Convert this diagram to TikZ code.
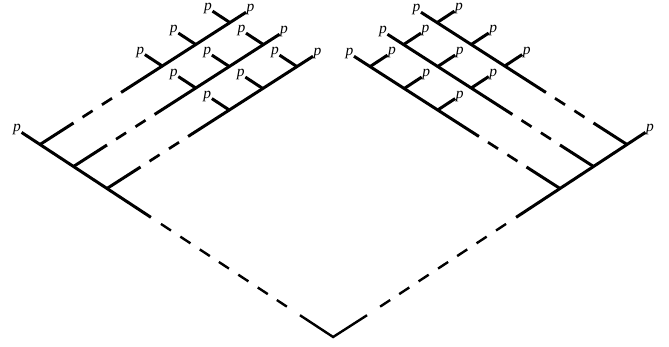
\documentclass[tikz,border=0pt]{standalone}
\usepackage{fontspec}
\setmainfont{Liberation Serif}
\usetikzlibrary{calc}
\newcommand\pfont{\fontsize{15.5}{16}\selectfont\itshape}
\begin{document}
\begin{tikzpicture}[x=1pt,y=-1pt,
  thickline/.style={line width=3pt},
  dashline/.style={line width=2.7pt},
  thinline/.style={line width=2.4pt},
  lab/.style={font=\pfont, inner sep=0.5pt, yshift=2.5pt}]
\useasboundingbox (0,0) rectangle (669,347);
\foreach \s/\n/\outA/\inA in {1/L/east/west, -1/R/west/east}{
  \pgfmathsetmacro{\cx}{333.5-\s*293.5}
  \coordinate (\n a) at (33.5*\s,22);
  \coordinate (\n b) at (33.5*\s,-21.5);
  \coordinate (\n J1) at (\cx,144.5);
  \coordinate (\n V) at ($(\n J1)+8.75*(\n a)$);
  \coordinate (\n S0) at ($(\n J1)-0.55*(\n a)$);
  \coordinate (\n M1) at ($(\n J1)+3.31*(\n a)$);
  \coordinate (\n M2) at ($(\n J1)+7.76*(\n a)$);
  % main line
  \draw[thickline] (\n S0) -- (\n M1);
  \node[lab, anchor=\outA] (\n P0) at (\n S0) {p};
  \foreach \u in {3.61,4.19,4.77,5.34,5.92,6.50,7.07}{
    \pgfmathsetmacro{\uu}{\u+0.3}
    \draw[thinline] ($(\n J1)+\u*(\n a)$) -- ($(\n J1)+\uu*(\n a)$);
  }
  % branches
  \foreach \k in {1,2,3}{
    \pgfmathsetmacro{\kk}{\k-1}
    \coordinate (\n J\k) at ($(\n J1)+\kk*(\n a)$);
    \draw[thickline] (\n J\k) -- ($(\n J\k)+1.0*(\n b)$);
    \draw[dashline] ($(\n J\k)+1.27*(\n b)$) -- ($(\n J\k)+1.57*(\n b)$);
    \draw[dashline] ($(\n J\k)+1.85*(\n b)$) -- ($(\n J\k)+2.15*(\n b)$);
    \coordinate (\n E\k) at ($(\n J\k)+6.15*(\n b)$);
    \draw[thickline] ($(\n J\k)+2.42*(\n b)$) -- (\n E\k);
    \node[lab, anchor=\inA] (\n PE\k) at (\n E\k) {p};
    \foreach \t/\i in {3.65/1,4.65/2,5.67/3}{
      \coordinate (\n B\k\i) at ($(\n J\k)+\t*(\n b)$);
      \coordinate (\n T\k\i) at ($(\n B\k\i)-0.52*(\n a)$);
      \draw[thickline] (\n B\k\i) -- (\n T\k\i);
      \node[lab, anchor=\outA] (\n P\k\i) at (\n T\k\i) {p};
    }
  }
}
% bottom vertex
\draw[thinline, line join=miter] (LM2) -- (LV) -- (RM2);
\end{tikzpicture}
\end{document}
